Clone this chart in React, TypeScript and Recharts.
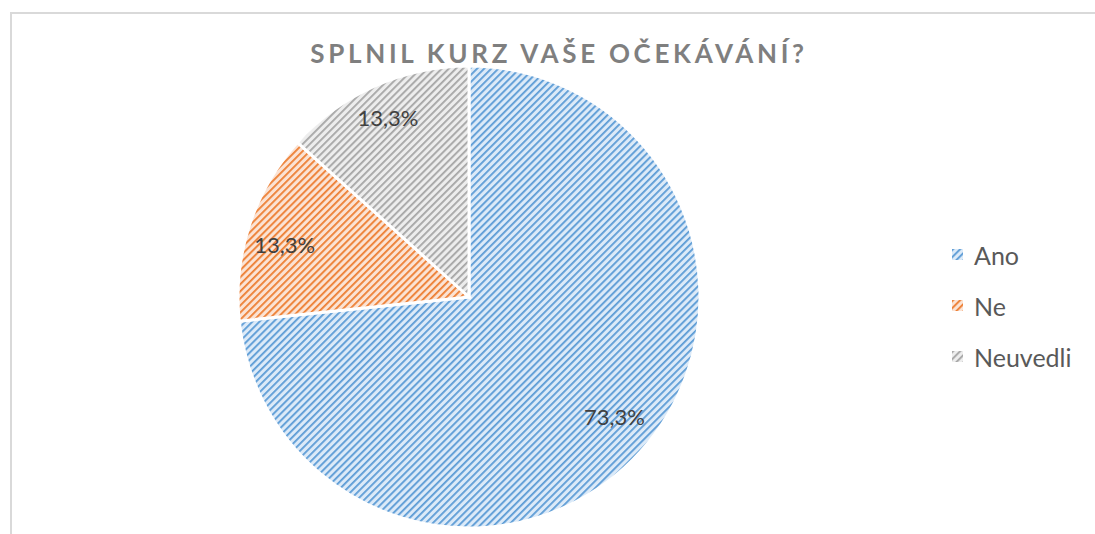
import { PieChart, Pie, Cell, Legend } from "recharts";

const categories = ["Ano", "Ne", "Neuvedli"];
const answers = [11, 2, 2];
const colors = ["#5b9bd5", "#ed7d31", "#a5a5a5"];
const lightColors = ["#dceaf8", "#fbe3d4", "#ededed"];

// small placement tweaks so labels sit where the original best-fit put them
const labelNudge = [
  [3, -9],
  [-2, 7],
  [-3, -4],
];

const data = categories.map((name, i) => ({ name, value: answers[i] }));
const total = answers.reduce((a, b) => a + b, 0);

const RAD = Math.PI / 180;
const FONT = "Lato, 'Open Sans', sans-serif";

function renderLabel(props: any) {
  const { cx, cy, midAngle, outerRadius, value, index } = props;
  const r = outerRadius * 0.83;
  const [nx, ny] = labelNudge[index] || [0, 0];
  const x = cx + r * Math.cos(-midAngle * RAD) + nx;
  const y = cy + r * Math.sin(-midAngle * RAD) + ny;
  const pct = ((value / total) * 100).toFixed(1).replace(".", ",") + "%";
  return (
    <text
      x={x}
      y={y}
      fill="#404040"
      fontFamily={FONT}
      fontSize={22}
      style={{ fontFamily: FONT, fontSize: 22 }}
      textAnchor="middle"
      dominantBaseline="central"
    >
      {pct}
    </text>
  );
}

function LegendContent() {
  return (
    <div style={{ fontFamily: FONT }}>
      {categories.map((name, i) => (
        <div
          key={name}
          style={{ display: "flex", alignItems: "center", height: 51, fontSize: 25, color: "#595959" }}
        >
          <svg width={11} height={11} style={{ marginRight: 11 }}>
            <rect width={11} height={11} fill={`url(#hatch-${i})`} />
          </svg>
          {name}
        </div>
      ))}
    </div>
  );
}

export default function App() {
  return (
    <div style={{ position: "absolute", left: 0, top: 0, width: 1095, height: 534, background: "#fff", overflow: "hidden" }}>
      <div
        style={{
          position: "absolute",
          left: 10,
          top: 12,
          width: 1200,
          height: 600,
          borderLeft: "2px solid #d9d9d9",
          borderTop: "2px solid #d9d9d9",
        }}
      />
      <div
        style={{
          position: "absolute",
          left: 0,
          width: 1118,
          top: 37,
          textAlign: "center",
          fontFamily: FONT,
          fontWeight: 700,
          fontSize: 26,
          letterSpacing: 3.7,
          color: "#7f7f7f",
        }}
      >
        SPLNIL KURZ VAŠE OČEKÁVÁNÍ?
      </div>
      <PieChart
        width={1095}
        height={534}
        margin={{ top: 0, right: 0, bottom: 0, left: 0 }}
        style={{ position: "absolute", left: 0, top: 0 }}
      >
        <defs>
          {colors.map((c, i) => (
            <pattern
              key={i}
              id={`hatch-${i}`}
              width={5}
              height={5}
              patternUnits="userSpaceOnUse"
              patternTransform="rotate(45)"
            >
              <rect width={5} height={5} fill={lightColors[i]} />
              <rect x={0} y={0} width={1.8} height={5} fill={c} />
            </pattern>
          ))}
        </defs>
        <Pie
          data={data}
          dataKey="value"
          nameKey="name"
          cx={469}
          cy={297}
          outerRadius={231}
          startAngle={90}
          endAngle={-270}
          stroke="#ffffff"
          strokeWidth={3}
          label={renderLabel}
          labelLine={false}
          isAnimationActive={false}
        >
          {data.map((entry, idx) => (
            <Cell key={`cell-${idx}`} fill={`url(#hatch-${idx})`} />
          ))}
        </Pie>
        <Legend
          layout="vertical"
          content={<LegendContent />}
          wrapperStyle={{ position: "absolute", left: 952, top: 229, width: 140 }}
        />
      </PieChart>
    </div>
  );
}
